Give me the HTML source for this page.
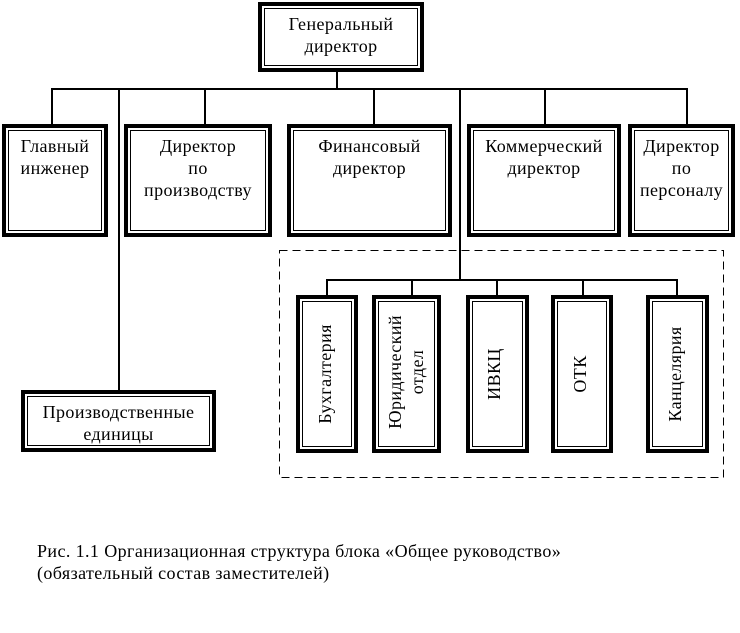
<!DOCTYPE html>
<html><head><meta charset="utf-8"><style>
body{margin:0;width:740px;height:633px;background:#fff;position:relative;overflow:hidden;font-family:"Liberation Serif",serif;font-size:18px;letter-spacing:0.4px;color:#000}
.b{position:absolute;box-sizing:border-box;border:4px solid #000;box-shadow:inset 0 0 0 2px #fff,inset 0 0 0 3px #000;text-align:center;line-height:22px;padding-top:7px;white-space:nowrap}
.l{position:absolute;background:#000}
.v{position:absolute;white-space:nowrap;transform:translate(-50%,-50%) rotate(-90deg);text-align:center;line-height:22px}
.t{position:absolute;white-space:nowrap}
</style></head><body>
<div class="b" style="left:258px;top:2px;width:166px;height:70px">Генеральный<br>директор</div>
<div class="l" style="left:336px;top:72px;width:2px;height:18px"></div>
<div class="l" style="left:51px;top:88px;width:637px;height:2px"></div>
<div class="l" style="left:51px;top:88px;width:2px;height:36px"></div>
<div class="l" style="left:118px;top:88px;width:2px;height:302px"></div>
<div class="l" style="left:204px;top:88px;width:2px;height:36px"></div>
<div class="l" style="left:373px;top:88px;width:2px;height:36px"></div>
<div class="l" style="left:459px;top:88px;width:2px;height:192px"></div>
<div class="l" style="left:544px;top:88px;width:2px;height:36px"></div>
<div class="l" style="left:686px;top:88px;width:2px;height:36px"></div>
<div class="b" style="left:2px;top:124px;width:106px;height:113px">Главный<br>инженер</div>
<div class="b" style="left:124px;top:124px;width:148px;height:113px">Директор<br>по<br>производству</div>
<div class="b" style="left:287px;top:124px;width:165px;height:113px">Финансовый<br>директор</div>
<div class="b" style="left:467px;top:124px;width:154px;height:113px">Коммерческий<br>директор</div>
<div class="b" style="left:628px;top:124px;width:107px;height:113px">Директор<br>по<br>персоналу</div>
<div class="b" style="left:21px;top:390px;width:195px;height:62px">Производственные<br>единицы</div>
<svg style="position:absolute;left:0;top:0" width="740" height="633"><rect x="279.5" y="250.5" width="444" height="227" fill="none" stroke="#000" stroke-width="1" stroke-dasharray="8 5"/></svg>
<div class="l" style="left:326px;top:279px;width:352px;height:2px"></div>
<div class="l" style="left:326px;top:279px;width:2px;height:16px"></div>
<div class="l" style="left:411px;top:279px;width:2px;height:16px"></div>
<div class="l" style="left:496px;top:279px;width:2px;height:16px"></div>
<div class="l" style="left:582px;top:279px;width:2px;height:16px"></div>
<div class="l" style="left:676px;top:279px;width:2px;height:16px"></div>
<div class="b" style="left:296px;top:295px;width:62px;height:158px"></div>
<div class="b" style="left:372px;top:295px;width:69px;height:158px"></div>
<div class="b" style="left:466px;top:295px;width:63px;height:158px"></div>
<div class="b" style="left:551px;top:295px;width:62px;height:158px"></div>
<div class="b" style="left:646px;top:295px;width:63px;height:158px"></div>
<div class="v" style="left:325px;top:374px">Бухгалтерия</div>
<div class="v" style="left:406px;top:372px">Юридический<br>отдел</div>
<div class="v" style="left:494px;top:374px">ИВКЦ</div>
<div class="v" style="left:580px;top:374px">ОТК</div>
<div class="v" style="left:675px;top:374px">Канцелярия</div>
<div class="t" style="left:37px;top:540px;line-height:22px">Рис. 1.1 Организационная структура блока «Общее руководство»<br>(обязательный состав заместителей)</div>
</body></html>
